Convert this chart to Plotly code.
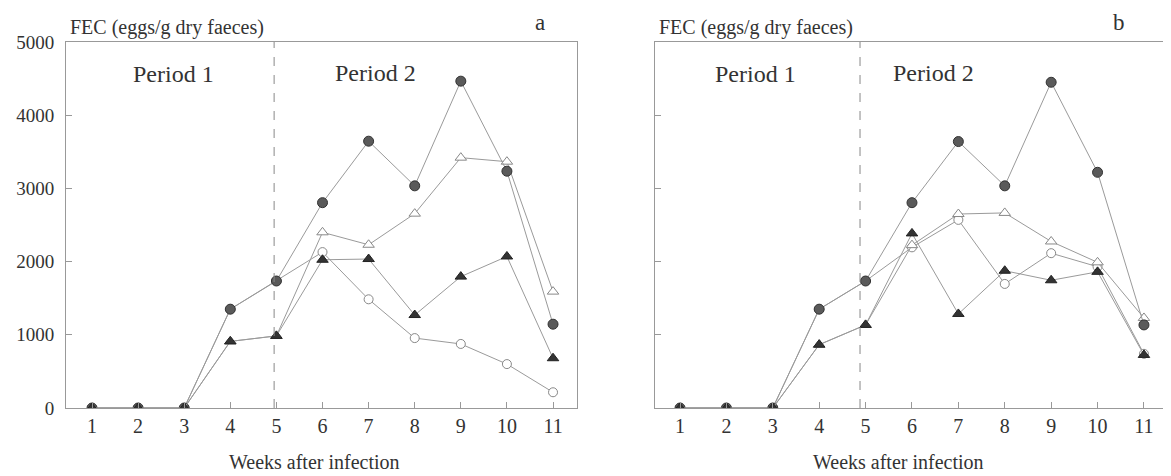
import plotly.graph_objects as go

# weeks after infection
weeks = [1, 2, 3, 4, 5, 6, 7, 8, 9, 10, 11]

# panel a
a_filled_circle = [0, 0, 0, 1350, 1735, 2805, 3645, 3035, 4465, 3235, 1145]
a_open_circle = [0, 0, 0, 1350, 1735, 2130, 1485, 955, 875, 600, 215]
a_filled_tri = [0, 0, 0, 910, 985, 2025, 2035, 1270, 1795, 2070, 680]
a_open_tri = [0, 0, 0, 910, 985, 2400, 2230, 2655, 3420, 3365, 1590]

# panel b
b_filled_circle = [0, 0, 0, 1350, 1735, 2805, 3640, 3035, 4450, 3220, 1135]
b_open_circle = [0, 0, 0, 1350, 1735, 2195, 2570, 1695, 2115, 1930, 740]
b_filled_tri = [0, 0, 0, 865, 1135, 2385, 1285, 1875, 1745, 1860, 725]
b_open_tri = [0, 0, 0, 865, 1135, 2225, 2650, 2665, 2275, 1990, 1230]

y_ticks = [0, 1000, 2000, 3000, 4000, 5000]
FONT = "Liberation Serif, Times New Roman, serif"
LINE = "#9a9a9a"

# the page body has an 8px margin, so the figure is drawn 8px smaller
OFF = 8
W = 1171 - OFF
H = 476 - OFF
TOP = 42 - OFF
BOTTOM = 408 - OFF
PLOT_H = BOTTOM - TOP

def px(x):
    return (x - OFF) / W

def py(y):
    return (BOTTOM - (y - OFF)) / PLOT_H

styles = {
    "filled_circle": dict(symbol="circle", size=10, color="#5a5a5a", line=dict(color="#333", width=1)),
    "open_circle": dict(symbol="circle", size=9, color="white", line=dict(color="#888", width=1)),
    "filled_tri": dict(symbol="triangle-up", size=10, color="#333", line=dict(color="#222", width=1)),
    "open_tri": dict(symbol="triangle-up", size=10, color="white", line=dict(color="#888", width=1)),
}

fig = go.Figure()

def add_panel(series, xa, ya):
    for name, vals in series:
        fig.add_trace(go.Scatter(
            x=weeks, y=vals, mode="lines+markers", xaxis=xa, yaxis=ya,
            line=dict(color=LINE, width=1), marker=styles[name],
            showlegend=False, hoverinfo="x+y"
        ))

add_panel([("open_circle", a_open_circle), ("open_tri", a_open_tri),
           ("filled_circle", a_filled_circle), ("filled_tri", a_filled_tri)], "x", "y")
add_panel([("open_circle", b_open_circle), ("open_tri", b_open_tri),
           ("filled_circle", b_filled_circle), ("filled_tri", b_filled_tri)], "x2", "y2")

axis_common = dict(showline=True, mirror=True, linecolor="#999", linewidth=1,
                   showgrid=False, zeroline=False, ticks="inside", ticklen=6,
                   tickcolor="#999")

fig.update_layout(
    width=W, height=H,
    margin=dict(l=0, r=0, t=TOP, b=H - BOTTOM),
    paper_bgcolor="white", plot_bgcolor="white",
    font=dict(family=FONT, color="#333"),
    xaxis=dict(axis_common, domain=[px(66), px(577)], range=[0.436, 11.52],
               tickvals=weeks, tickfont=dict(size=20), anchor="y"),
    yaxis=dict(axis_common, range=[0, 5000], tickvals=y_ticks,
               tickfont=dict(size=19), ticklabelstandoff=7, anchor="x"),
    xaxis2=dict(axis_common, domain=[px(655), px(1169)], range=[0.461, 11.54],
                tickvals=weeks, tickfont=dict(size=20), anchor="y2"),
    yaxis2=dict(axis_common, range=[0, 5000], tickvals=y_ticks,
                showticklabels=False, anchor="x2"),
)

# dashed separators between periods
for xref, yref, xv in [("x", "y", 4.95), ("x2", "y2", 4.88)]:
    fig.add_shape(type="line", xref=xref, yref=yref, x0=xv, x1=xv, y0=0, y1=5000,
                  line=dict(color="#888", width=1, dash="dash"))

ann = []
for xref, yref, x1, x2 in [("x", "y", 2.76, 7.16), ("x2", "y2", 2.62, 6.47)]:
    ann.append(dict(text="Period 1", x=x1, y=4560, xref=xref, yref=yref,
                    showarrow=False, font=dict(size=24)))
    ann.append(dict(text="Period 2", x=x2, y=4580, xref=xref, yref=yref,
                    showarrow=False, font=dict(size=24)))

for x0, cx, letter, lx in [(68, 314, "a", 540), (657, 898, "b", 1119)]:
    ann.append(dict(text="FEC (eggs/g dry faeces)", x=px(x0), y=py(28), xref="paper", yref="paper",
                    xanchor="left", yanchor="middle", showarrow=False, font=dict(size=20)))
    ann.append(dict(text="Weeks after infection", x=px(cx), y=py(462), xref="paper", yref="paper",
                    xanchor="center", yanchor="middle", showarrow=False, font=dict(size=20)))
    ann.append(dict(text=letter, x=px(lx), y=py(OFF), xref="paper", yref="paper",
                    xanchor="center", yanchor="top", showarrow=False, font=dict(size=23)))

fig.update_layout(annotations=ann)

fig.write_html("out.html")
